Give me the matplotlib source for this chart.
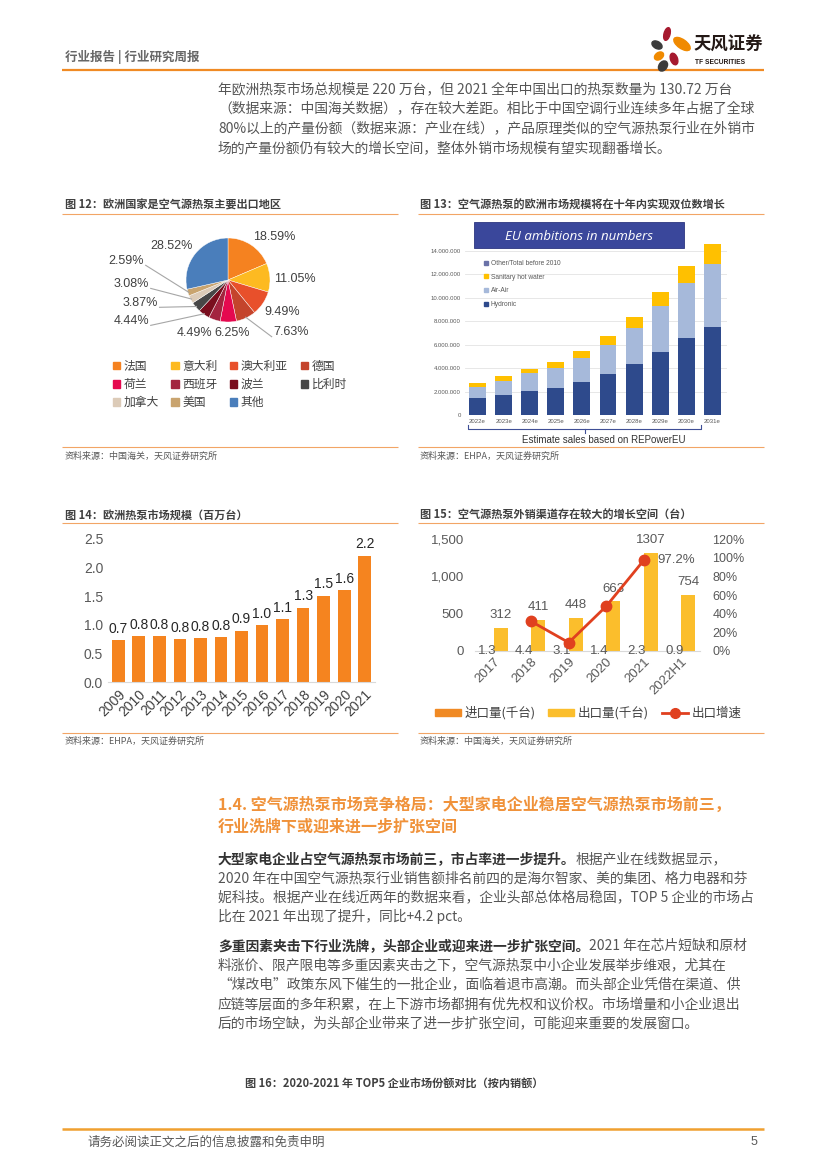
import matplotlib
matplotlib.use('Agg')
import matplotlib.pyplot as plt
import matplotlib.ticker as mticker
from matplotlib.patches import Rectangle, Ellipse, Patch
from matplotlib.lines import Line2D
import numpy as np

plt.rcParams['font.family'] = ['Liberation Sans', 'Noto Sans CJK SC', 'DejaVu Sans']
CJK = ['Noto Sans CJK SC', 'DejaVu Sans']

W, H = 827, 1169

# ---------------- data ----------------
# Fig 12: export destinations (%)
pie_labels = ['法国', '意大利', '澳大利亚', '德国', '荷兰', '西班牙', '波兰', '比利时', '加拿大', '美国', '其他']
pie_values = [18.59, 11.05, 9.49, 7.63, 6.25, 4.49, 4.44, 3.87, 3.08, 2.59, 28.52]
pie_colors = ['#F58220', '#FDBA21', '#E8502B', '#C4442C', '#E5094F', '#A3243F',
              '#7A0E1E', '#474747', '#DCCBB8', '#C9A46F', '#4A7EBB']

# Fig 13: EU heat pump sales ambitions (million units)
eu_years = ['2022e', '2023e', '2024e', '2025e', '2026e', '2027e', '2028e', '2029e', '2030e', '2031e']
eu_hydronic = [1.42, 1.71, 2.02, 2.34, 2.79, 3.48, 4.33, 5.38, 6.55, 7.55]
eu_airair = [1.00, 1.19, 1.54, 1.65, 2.11, 2.47, 3.13, 3.96, 4.70, 5.35]
eu_shw = [0.34, 0.43, 0.34, 0.54, 0.57, 0.80, 0.92, 1.16, 1.43, 1.70]
eu_other = [0, 0, 0, 0, 0, 0, 0, 0, 0, 0]

# Fig 14: European heat pump market (million units)
hp_years = ['2009', '2010', '2011', '2012', '2013', '2014', '2015',
            '2016', '2017', '2018', '2019', '2020', '2021']
hp_market = [0.73, 0.81, 0.81, 0.75, 0.77, 0.79, 0.90, 1.00, 1.10, 1.30, 1.51, 1.61, 2.21]

# Fig 15: China heat pump import / export (thousand units)
tr_years = ['2017', '2018', '2019', '2020', '2021', '2022H1']
tr_import = [1.3, 4.4, 3.1, 1.4, 2.3, 0.9]
tr_export = [312, 411, 448, 663, 1307, 754]
tr_growth = [np.nan, 0.317, 0.090, 0.480, 0.972, np.nan]

ORANGE = '#F08A24'
LINE_OR = '#F2A566'
GRAY = '#595959'
BODY = 9.95

fig = plt.figure(figsize=(W / 100, H / 100), dpi=100)

# background axes in page pixel coordinates
bg = fig.add_axes([0, 0, 1, 1])
bg.set_xlim(0, W)
bg.set_ylim(H, 0)
bg.axis('off')


def px_axes(l, t, r, b):
    a = fig.add_axes([l / W, 1 - b / H, (r - l) / W, (b - t) / H])
    a.set_facecolor('none')
    return a


def hline(x0, x1, y, color=LINE_OR, lw=0.8):
    bg.plot([x0, x1], [y, y], color=color, lw=lw, solid_capstyle='butt')


# ---------------- header ----------------
bg.text(65, 57, '行业报告 | 行业研究周报', family=CJK, fontsize=9, fontweight='bold',
        color='#666666', va='center', ha='left')
hline(62, 764, 70, color=ORANGE, lw=1.6)

logo = fig.add_axes([648 / W, 1 - 72 / H, 46 / W, 50 / H])
logo.set_xlim(648, 694)
logo.set_ylim(72, 22)
logo.axis('off')
petals = [((667, 34), 6, 13, 15, '#A6192E'),
          ((682, 44), 9, 19, -55, '#F08A00'),
          ((657, 45), 7, 11, -60, '#3C3C3C'),
          ((659, 56), 7, 10, 55, '#F08A00'),
          ((674, 59), 7, 12, -20, '#A6192E'),
          ((663, 66), 8, 11, 35, '#3C3C3C')]
for c, w, h, a, col in petals:
    logo.add_patch(Ellipse(c, w, h, angle=a, color=col))
bg.text(694, 45, '天风证券', family=CJK, fontsize=12.5, fontweight='bold', color='#231815',
        va='center', ha='left')
bg.text(695, 63, 'TF SECURITIES', fontsize=4.8, fontweight='bold', color='#231815',
        va='center', ha='left')


# ---------------- body text helper ----------------
def para_line(x, y, segments, size=BODY):
    prev = None
    for txt, bold in segments:
        kw = dict(fontsize=size, family=CJK, va='center', ha='left',
                  color='#333333' if bold else '#555555',
                  fontweight='bold' if bold else 'normal')
        if prev is None:
            prev = bg.text(x, y, txt, **kw)
        else:
            prev = bg.annotate(txt, xy=(1, 0.5), xycoords=prev, **kw)


top_lines = ['年欧洲热泵市场总规模是 220 万台，但 2021 全年中国出口的热泵数量为 130.72 万台',
             '（数据来源：中国海关数据），存在较大差距。相比于中国空调行业连续多年占据了全球',
             '80%以上的产量份额（数据来源：产业在线），产品原理类似的空气源热泵行业在外销市',
             '场的产量份额仍有较大的增长空间，整体外销市场规模有望实现翻番增长。']
for i, t in enumerate(top_lines):
    para_line(218, 89 + 19.7 * i, [(t, False)])

# ---------------- Fig 12: pie ----------------
bg.text(65, 205, '图 12：欧洲国家是空气源热泵主要出口地区', family=CJK, fontsize=8,
        fontweight='bold', color='#404040', va='center')
hline(62, 398, 214)
hline(62, 398, 447)
bg.text(65, 456, '资料来源：中国海关，天风证券研究所', family=CJK, fontsize=6.5, color=GRAY, va='center')

ax12 = px_axes(62, 218, 398, 345)
wedges, _ = ax12.pie(pie_values, colors=pie_colors, startangle=90, counterclock=False,
                     radius=1.0, wedgeprops=dict(linewidth=0.3, edgecolor='white'))
ax12.set_aspect('auto')
ax12.set_xlim(-(228 - 62) / 42, (398 - 228) / 42)
ax12.set_ylim(-(345 - 280) / 42, (280 - 218) / 42)

label_pos = [(1.09, 1.02, 'center'), (1.6, 0.02, 'center'), (1.3, -0.76, 'center'),
             (1.08, -1.25, 'left'), (0.1, -1.27, 'center'), (-0.8, -1.27, 'center'),
             (-1.88, -0.98, 'right'), (-1.67, -0.55, 'right'), (-1.88, -0.1, 'right'),
             (-2.0, 0.45, 'right'), (-1.35, 0.8, 'center')]
leader = [False, False, False, True, False, False, True, True, True, True, False]
cum = np.cumsum([0] + pie_values)
for i, v in enumerate(pie_values):
    lx, ly, ha = label_pos[i]
    ax12.text(lx, ly, f'{v:.2f}%', ha=ha, va='center', fontsize=9, color='#404040')
    if leader[i]:
        mid = np.deg2rad(90 - 3.6 * (cum[i] + cum[i + 1]) / 2)
        sx = lx + (0.04 if ha == 'right' else -0.04)
        ax12.plot([sx, np.cos(mid) * 0.98], [ly - 0.1, np.sin(mid) * 0.98],
                  color='#A6A6A6', lw=0.8)

order = [0, 4, 8, 1, 5, 9, 2, 6, 10, 3, 7]
handles = [Patch(color=pie_colors[k], label=pie_labels[k]) for k in order]
fig.legend(handles=handles, ncol=4, loc='upper left',
           bbox_to_anchor=(102 / W, 1 - 349 / H), frameon=False,
           prop=dict(family=CJK, size=8.5), handlelength=0.6, handleheight=0.6,
           handletextpad=0.3, columnspacing=1.1, labelspacing=0.45,
           labelcolor='#404040')

# ---------------- Fig 13: stacked EU ambitions ----------------
bg.text(420, 205, '图 13：空气源热泵的欧洲市场规模将在十年内实现双位数增长', family=CJK,
        fontsize=8, fontweight='bold', color='#404040', va='center')
hline(418, 764, 214)
hline(418, 764, 447)
bg.text(420, 456, '资料来源：EHPA，天风证券研究所', family=CJK, fontsize=6.5, color=GRAY, va='center')

ax13 = px_axes(465, 240, 727, 415)
x13 = np.arange(len(eu_years))
hyd = np.array(eu_hydronic) * 1e6
air = np.array(eu_airair) * 1e6
shw = np.array(eu_shw) * 1e6
oth = np.array(eu_other) * 1e6
c_hyd, c_air, c_shw, c_oth = '#2E4A8C', '#A6B9DA', '#FFC000', '#6A72A8'
ax13.bar(x13, hyd, width=0.65, color=c_hyd, zorder=3)
ax13.bar(x13, air, width=0.65, bottom=hyd, color=c_air, zorder=3)
ax13.bar(x13, shw, width=0.65, bottom=hyd + air, color=c_shw, zorder=3)
ax13.bar(x13, oth, width=0.65, bottom=hyd + air + shw, color=c_oth, zorder=3)
ax13.set_xlim(-0.48, 9.56)
ax13.set_ylim(0, 14e6 * 175 / 164)
ax13.set_yticks(np.arange(0, 14.1e6, 2e6))
ax13.yaxis.set_major_formatter(mticker.FuncFormatter(lambda v, p: f'{v:,.0f}'.replace(',', '.')))
ax13.set_xticks(x13)
ax13.set_xticklabels(eu_years)
ax13.tick_params(axis='both', length=0, labelsize=4.3, colors='#595959', pad=3)
ax13.grid(axis='y', color='#E3E3E3', lw=0.6, zorder=0)
for s in ax13.spines.values():
    s.set_visible(False)
leg13 = [Patch(color=c_oth, label='Other/Total before 2010'),
         Patch(color=c_shw, label='Sanitary hot water'),
         Patch(color=c_air, label='Air-Air'),
         Patch(color=c_hyd, label='Hydronic')]
ax13.legend(handles=leg13, loc='upper left', bbox_to_anchor=(478 / W, 1 - 254 / H),
            bbox_transform=fig.transFigure, frameon=False, fontsize=4.8,
            handlelength=0.6, handleheight=0.6, handletextpad=0.4, labelspacing=1.0,
            labelcolor='#595959')

bg.add_patch(Rectangle((474, 222), 210, 26, facecolor='#3A479B', edgecolor='#2C3680', lw=0.6))
bg.text(579, 235, 'EU ambitions in numbers', color='white', fontsize=9.5, style='italic',
        ha='center', va='center_baseline', family=['Open Sans', 'DejaVu Sans'])
bc = '#3F4F96'
bg.plot([468, 468, 701, 701], [425, 429, 429, 425], color=bc, lw=0.8)
bg.plot([585, 585], [429, 433], color=bc, lw=0.8)
bg.text(604, 440, 'Estimate sales based on REPowerEU', fontsize=7, color='#333333',
        ha='center', va='center')

# ---------------- Fig 14: European market ----------------
bg.text(65, 515, '图 14：欧洲热泵市场规模（百万台）', family=CJK, fontsize=8,
        fontweight='bold', color='#404040', va='center')
hline(62, 398, 523)
hline(62, 398, 733)
bg.text(65, 741, '资料来源：EHPA，天风证券研究所', family=CJK, fontsize=6.5, color=GRAY, va='center')

ax14 = px_axes(108, 539, 375, 682)
x14 = np.arange(len(hp_years))
b14 = ax14.bar(x14, hp_market, width=0.62, color='#F5841F')
ax14.bar_label(b14, labels=[f'{v:.1f}' for v in hp_market], padding=3, fontsize=10, color='#262626')
ax14.set_xlim(-0.5, 12.5)
ax14.set_ylim(0, 2.5)
ax14.set_yticks(np.arange(0, 2.51, 0.5))
ax14.yaxis.set_major_formatter(mticker.FormatStrFormatter('%.1f'))
ax14.set_xticks(x14)
ax14.set_xticklabels(hp_years, rotation=45, ha='right', rotation_mode='anchor')
ax14.tick_params(axis='both', length=0, labelsize=10, colors=GRAY)
ax14.tick_params(axis='x', colors='#404040', pad=4)
for s in ['top', 'right', 'left']:
    ax14.spines[s].set_visible(False)
ax14.spines['bottom'].set_color('#D9D9D9')

# ---------------- Fig 15: import / export ----------------
bg.text(420, 515, '图 15：空气源热泵外销渠道存在较大的增长空间（台）', family=CJK, fontsize=8,
        fontweight='bold', color='#404040', va='center')
hline(418, 764, 523)
hline(418, 764, 733)
bg.text(420, 741, '资料来源：中国海关，天风证券研究所', family=CJK, fontsize=6.5, color=GRAY, va='center')

ax15 = px_axes(475, 539, 700, 651)
x15 = np.arange(len(tr_years))
c_imp, c_exp, c_line = '#F08A24', '#FBBE2C', '#E0401F'
bi = ax15.bar(x15 - 0.185, tr_import, width=0.37, color=c_imp)
be = ax15.bar(x15 + 0.185, tr_export, width=0.37, color=c_exp)
ax15.bar_label(bi, labels=[f'{v:.1f}' for v in tr_import], label_type='center', fontsize=9.5, color=GRAY)
ax15.bar_label(be, labels=[f'{v}' for v in tr_export], padding=5, fontsize=9.5, color=GRAY)
ax15.set_xlim(-0.5, 5.5)
ax15.set_ylim(0, 1500)
ax15.set_yticks([0, 500, 1000, 1500])
ax15.yaxis.set_major_formatter(mticker.FuncFormatter(lambda v, p: f'{v:,.0f}'))
ax15.set_xticks(x15)
ax15.set_xticklabels(tr_years, rotation=45, ha='right', rotation_mode='anchor')
ax15.tick_params(axis='both', length=0, labelsize=9.5, colors=GRAY)
ax15.tick_params(axis='y', pad=8)
for s in ['top', 'right', 'left']:
    ax15.spines[s].set_visible(False)
ax15.spines['bottom'].set_color('#D9D9D9')

ax15r = ax15.twinx()
ax15r.set_facecolor('none')
ax15r.plot(x15, tr_growth, color=c_line, lw=2, marker='o', markersize=7.5)
ax15r.set_ylim(0, 1.2)
ax15r.set_yticks(np.arange(0, 1.21, 0.2))
ax15r.yaxis.set_major_formatter(mticker.FuncFormatter(lambda v, p: f'{v * 100:.0f}%'))
ax15r.tick_params(axis='y', length=0, labelsize=9, colors=GRAY, pad=9)
for s in ax15r.spines.values():
    s.set_visible(False)
ax15r.annotate(f'{tr_growth[4] * 100:.1f}%', xy=(4, tr_growth[4]), xytext=(10, 0),
               textcoords='offset points', ha='left', va='center', fontsize=9.5, color=GRAY)

leg15 = [Patch(color=c_imp, label='进口量(千台)'),
         Patch(color=c_exp, label='出口量(千台)'),
         Line2D([0], [0], color=c_line, lw=2, marker='o', markersize=7, label='出口增速')]
fig.legend(handles=leg15, ncol=3, loc='center', bbox_to_anchor=(588 / W, 1 - 713 / H),
           frameon=False, prop=dict(family=CJK, size=9), handlelength=2.1, handleheight=0.55,
           handletextpad=0.3, columnspacing=1.0, labelcolor='#404040')

# ---------------- section 1.4 ----------------
bg.text(218, 805, '1.4. 空气源热泵市场竞争格局：大型家电企业稳居空气源热泵市场前三，',
        family=CJK, fontsize=11.5, fontweight='bold', color='#F0923A', va='center')
bg.text(218, 827, '行业洗牌下或迎来进一步扩张空间',
        family=CJK, fontsize=11.5, fontweight='bold', color='#F0923A', va='center')

p1 = [[('大型家电企业占空气源热泵市场前三，市占率进一步提升。', True), ('根据产业在线数据显示，', False)],
      [('2020 年在中国空气源热泵行业销售额排名前四的是海尔智家、美的集团、格力电器和芬', False)],
      [('妮科技。根据产业在线近两年的数据来看，企业头部总体格局稳固，TOP 5 企业的市场占', False)],
      [('比在 2021 年出现了提升，同比+4.2 pct。', False)]]
for i, segs in enumerate(p1):
    para_line(218, 859 + 19.3 * i, segs)

p2 = [[('多重因素夹击下行业洗牌，头部企业或迎来进一步扩张空间。', True), ('2021 年在芯片短缺和原材', False)],
      [('料涨价、限产限电等多重因素夹击之下，空气源热泵中小企业发展举步维艰，尤其在', False)],
      [('“煤改电”政策东风下催生的一批企业，面临着退市高潮。而头部企业凭借在渠道、供', False)],
      [('应链等层面的多年积累，在上下游市场都拥有优先权和议价权。市场增量和小企业退出', False)],
      [('后的市场空缺，为头部企业带来了进一步扩张空间，可能迎来重要的发展窗口。', False)]]
for i, segs in enumerate(p2):
    para_line(218, 946 + 19.3 * i, segs)

bg.text(245, 1083, '图 16：2020-2021 年 TOP5 企业市场份额对比（按内销额）', family=CJK,
        fontsize=8, fontweight='bold', color='#404040', va='center')

# ---------------- footer ----------------
hline(62, 764, 1129, color='#F0A030', lw=1.8)
bg.text(88, 1142, '请务必阅读正文之后的信息披露和免责申明', family=CJK, fontsize=9,
        color=GRAY, va='center')
bg.text(757, 1142, '5', fontsize=9, color=GRAY, va='center', ha='right')

fig.savefig('out.png', dpi=100)
